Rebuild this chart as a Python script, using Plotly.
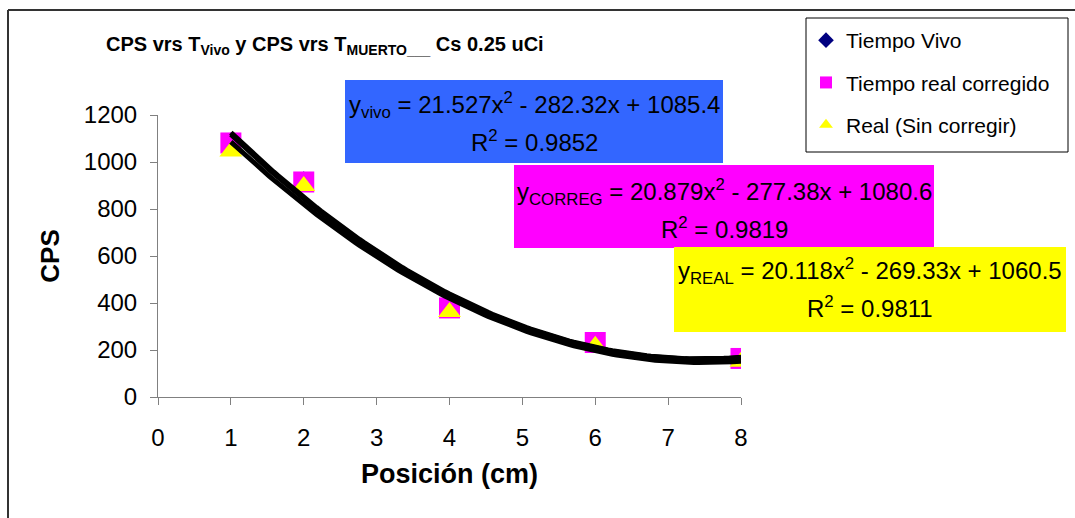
import numpy as np
import plotly.graph_objects as go

# ---- data ----
posicion = [1, 2, 4, 6, 8]
cps_vivo = [1088, 922, 383, 234, 166]
cps_correg = [1081, 915, 379, 232, 164]
cps_real = [1045, 898, 362, 218, 150]

series_names = ["Tiempo Vivo", "Tiempo real corregido", "Real (Sin corregir)"]
eq_texts = [
    ("y<sub>vivo</sub> = 21.527x<sup>2</sup> - 282.32x + 1085.4", "R<sup>2</sup> = 0.9852"),
    ("y<sub>CORREG</sub> = 20.879x<sup>2</sup> - 277.38x + 1080.6", "R<sup>2</sup> = 0.9819"),
    ("y<sub>REAL</sub> = 20.118x<sup>2</sup> - 269.33x + 1060.5", "R<sup>2</sup> = 0.9811"),
]
x_ticks = [0, 1, 2, 3, 4, 5, 6, 7, 8]
y_ticks = [0, 200, 400, 600, 800, 1000, 1200]

W, H = 1075, 518
L, R, T, B = 158, 741, 115, 397  # plot area in px
FONT = "Liberation Sans, Arial, sans-serif"


def px(x):
    return (x - L) / (R - L)


def py(y):
    return (B - y) / (B - T)


fig = go.Figure()

styles = [
    dict(symbol="diamond", color="#000080", size=14),
    dict(symbol="square", color="#FF00FF", size=21),
    dict(symbol="triangle-up", color="#FFFF00", size=20),
]
for i, (name, ys, st) in enumerate(zip(series_names, (cps_vivo, cps_correg, cps_real), styles)):
    fig.add_trace(go.Scatter(x=posicion, y=ys, mode="markers", name=name,
                             legendgroup=f"g{i}",
                             marker=dict(symbol=st["symbol"], color=st["color"],
                                         size=st["size"], line=dict(width=0))))

# trendlines (quadratic least squares, as the spreadsheet trendlines), drawn over markers
xs = np.linspace(min(posicion), max(posicion), 120)
for ys in (cps_vivo, cps_correg, cps_real):
    c = np.polyfit(posicion, ys, 2)
    fig.add_trace(go.Scatter(x=xs, y=np.polyval(c, xs), mode="lines",
                             line=dict(color="black", width=5),
                             showlegend=False, hoverinfo="skip"))

shapes = []
annotations = []
boxes = [
    ((345, 80, 723, 163), "#3366FF", (105, 141)),
    ((514, 165, 934, 248), "#FF00FF", (192, 228)),
    ((674, 247, 1066, 332), "#FFFF00", (271, 307)),
]
for (x0, y0, x1, y1), col, (ly1, ly2) in boxes:
    shapes.append(dict(type="rect", xref="paper", yref="paper",
                       x0=px(x0), x1=px(x1), y0=py(y1), y1=py(y0),
                       fillcolor=col, line=dict(width=0), layer="above"))
for ((x0, y0, x1, y1), col, (ly1, ly2)), (t1, t2) in zip(boxes, eq_texts):
    cx = px((x0 + x1) / 2)
    annotations.append(dict(text=t1, x=cx, y=py(ly1), xref="paper", yref="paper",
                            showarrow=False, xanchor="center", yanchor="middle",
                            font=dict(size=24, color="black", family=FONT)))
    annotations.append(dict(text=t2, x=cx, y=py(ly2), xref="paper", yref="paper",
                            showarrow=False, xanchor="center", yanchor="middle",
                            font=dict(size=24, color="black", family=FONT)))

# outer chart border (top and left)
shapes.append(dict(type="line", xref="paper", yref="paper", x0=px(8), x1=px(1075),
                   y0=py(10), y1=py(10), line=dict(color="#333333", width=2)))
shapes.append(dict(type="line", xref="paper", yref="paper", x0=px(8), x1=px(8),
                   y0=py(10), y1=py(518), line=dict(color="#333333", width=2)))
# legend frame
shapes.append(dict(type="rect", xref="paper", yref="paper", x0=px(806), x1=px(1068),
                   y0=py(152), y1=py(18), line=dict(color="black", width=1),
                   fillcolor="rgba(0,0,0,0)", layer="above"))

# title
annotations.append(dict(
    text="<b>CPS vrs T<sub>Vivo</sub> y CPS vrs T<sub>MUERTO___</sub> Cs 0.25 uCi</b>",
    x=px(104), y=py(45), xref="paper", yref="paper", showarrow=False,
    xanchor="left", yanchor="middle", font=dict(size=20, color="black", family=FONT)))

fig.update_layout(
    width=W, height=H,
    margin=dict(l=L, r=W - R, t=T, b=H - B),
    paper_bgcolor="white", plot_bgcolor="white",
    font=dict(family=FONT, color="black"),
    shapes=shapes, annotations=annotations,
    showlegend=True,
    legend=dict(x=px(806), y=py(20), xanchor="left", yanchor="top",
                borderwidth=0, bgcolor="rgba(0,0,0,0)",
                font=dict(size=21, family=FONT, color="black"),
                traceorder="grouped", tracegroupgap=12, itemsizing="constant"),
    xaxis=dict(range=[0, 8], tickvals=x_ticks, showgrid=False, zeroline=False,
               showline=True, linecolor="#808080", linewidth=1,
               ticks="outside", ticklen=7, tickcolor="#808080",
               tickfont=dict(size=24), ticklabelstandoff=12,
               title=dict(text="<b>Posición (cm)</b>", font=dict(size=27), standoff=14)),
    yaxis=dict(range=[0, 1200], tickvals=y_ticks, showgrid=False, zeroline=False,
               showline=True, linecolor="#808080", linewidth=1,
               ticks="outside", ticklen=7, tickcolor="#808080",
               tickfont=dict(size=24), ticklabelstandoff=8,
               title=dict(text="<b>CPS</b>", font=dict(size=26), standoff=16)),
)

fig.write_html("out.html")
